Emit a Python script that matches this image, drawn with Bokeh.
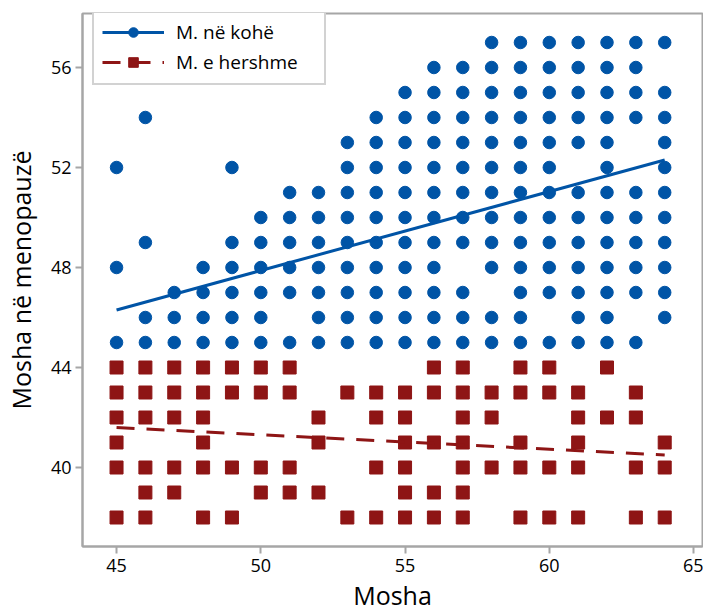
from bokeh.plotting import figure
from bokeh.models import Legend, LegendItem, FixedTicker, ColumnDataSource
from bokeh.embed import file_html
from bokeh.resources import INLINE

# ---- data ----
ages = [45, 46, 47, 48, 49, 50, 51, 52, 53, 54, 55, 56, 57, 58, 59, 60, 61, 62, 63, 64]

# Menopause age values for "M. në kohë" (on time), per age column
ontime_meno = [
    [45, 48, 52],
    [45, 46, 49, 54],
    [45, 46, 47],
    [45, 46, 47, 48],
    [45, 46, 47, 48, 49, 52],
    [45, 46, 47, 48, 49, 50],
    [45, 47, 48, 49, 50, 51],
    [45, 46, 47, 48, 49, 50, 51],
    [45, 46, 47, 48, 49, 50, 51, 52, 53],
    [45, 46, 47, 48, 49, 50, 51, 52, 53, 54],
    [45, 46, 47, 48, 49, 50, 51, 52, 53, 54, 55],
    [45, 46, 47, 48, 49, 50, 51, 52, 53, 54, 55, 56],
    [45, 46, 47, 49, 50, 51, 52, 53, 54, 55, 56],
    [45, 46, 48, 49, 50, 51, 52, 53, 54, 55, 56, 57],
    [45, 46, 47, 48, 49, 50, 51, 52, 53, 54, 55, 56, 57],
    [45, 47, 48, 49, 50, 51, 52, 53, 54, 55, 56, 57],
    [45, 46, 47, 48, 49, 50, 51, 53, 54, 55, 56, 57],
    [45, 46, 47, 48, 49, 50, 51, 52, 53, 54, 55, 56, 57],
    [45, 47, 48, 49, 50, 51, 54, 55, 56, 57],
    [46, 47, 48, 49, 50, 51, 52, 53, 54, 55, 57],
]

# Menopause age values for "M. e hershme" (early), per age column
early_meno = [
    [38, 40, 41, 42, 43, 44],
    [38, 39, 40, 42, 43, 44],
    [39, 40, 42, 43, 44],
    [38, 40, 41, 42, 43, 44],
    [38, 40, 43, 44],
    [39, 40, 43, 44],
    [39, 40, 43, 44],
    [39, 41, 42],
    [38, 43],
    [38, 40, 42, 43],
    [38, 39, 40, 41, 42, 43],
    [38, 39, 41, 43, 44],
    [38, 39, 40, 41, 42, 43, 44],
    [40, 42, 43],
    [38, 40, 41, 43, 44],
    [38, 40, 43, 44],
    [38, 40, 41, 42, 43],
    [42, 44],
    [38, 40, 42, 43],
    [38, 40, 41],
]

# Fitted regression lines (end points)
fit_x = [45, 64]
ontime_fit = [46.3, 52.3]
early_fit = [41.6, 40.5]

x_ticks = [45, 50, 55, 60, 65]
y_ticks = [40, 44, 48, 52, 56]

# ---- build sources ----
ot_x, ot_y, ea_x, ea_y = [], [], [], []
for a, vals in zip(ages, ontime_meno):
    ot_x += [a] * len(vals)
    ot_y += vals
for a, vals in zip(ages, early_meno):
    ea_x += [a] * len(vals)
    ea_y += vals

BLUE = "#0054A6"
RED = "#8E1515"
GRAY = "#A6A6A6"
FONT = "Open Sans"

FW, FH = 620, 533

p = figure(
    frame_width=FW, frame_height=FH,
    x_range=(43.82, 65.31), y_range=(36.84, 58.16),
    output_backend="svg", toolbar_location=None,
    min_border_left=75, min_border_top=13, min_border_right=1, min_border_bottom=0,
    background_fill_color="white", border_fill_color="white",
)
p.grid.visible = False
p.outline_line_color = GRAY
p.outline_line_width = 2

for ax in (p.xaxis[0], p.yaxis[0]):
    ax.axis_line_color = GRAY
    ax.axis_line_width = 2
    ax.major_tick_line_color = GRAY
    ax.major_tick_line_width = 2
    ax.major_tick_in = 0
    ax.major_tick_out = 7
    ax.minor_tick_line_color = None
    ax.major_label_text_font = FONT
    ax.major_label_text_font_size = "18px"
    ax.major_label_text_color = "black"
    ax.axis_label_text_font = FONT
    ax.axis_label_text_font_size = "25px"
    ax.axis_label_text_font_style = "normal"
    ax.axis_label_text_color = "black"

p.xaxis.ticker = FixedTicker(ticks=x_ticks)
p.yaxis.ticker = FixedTicker(ticks=y_ticks)
p.xaxis.axis_label = "Mosha"
p.yaxis.axis_label = "Mosha në menopauzë"
p.xaxis.major_label_standoff = 5
p.yaxis.major_label_standoff = 4
p.xaxis.axis_label_standoff = 3
p.yaxis.axis_label_standoff = 10

ot_src = ColumnDataSource(dict(x=ot_x, y=ot_y))
ea_src = ColumnDataSource(dict(x=ea_x, y=ea_y))

r_ot = p.scatter("x", "y", source=ot_src, marker="circle", size=12.5,
                 fill_color=BLUE, line_color=BLUE)
r_ea = p.scatter("x", "y", source=ea_src, marker="square", size=13,
                 fill_color=RED, line_color=RED)
l_ot = p.line(fit_x, ontime_fit, line_color=BLUE, line_width=3)
l_ea = p.line(fit_x, early_fit, line_color=RED, line_width=3, line_dash="18 12")

legend = Legend(
    items=[
        LegendItem(label="M. në kohë", renderers=[l_ot, r_ot]),
        LegendItem(label="M. e hershme", renderers=[l_ea, r_ea]),
    ],
    location=(10, FH - 2 - 70),
    orientation="vertical",
    border_line_color=GRAY, border_line_width=2,
    background_fill_color="white", background_fill_alpha=1.0,
    label_text_font=FONT, label_text_font_size="19px", label_text_color="black",
    glyph_width=62, glyph_height=24, label_height=24, label_width=140,
    label_standoff=12, padding=8, spacing=4, margin=0,
)
p.add_layout(legend, "center")

open("out.html", "w").write(file_html(p, INLINE))
